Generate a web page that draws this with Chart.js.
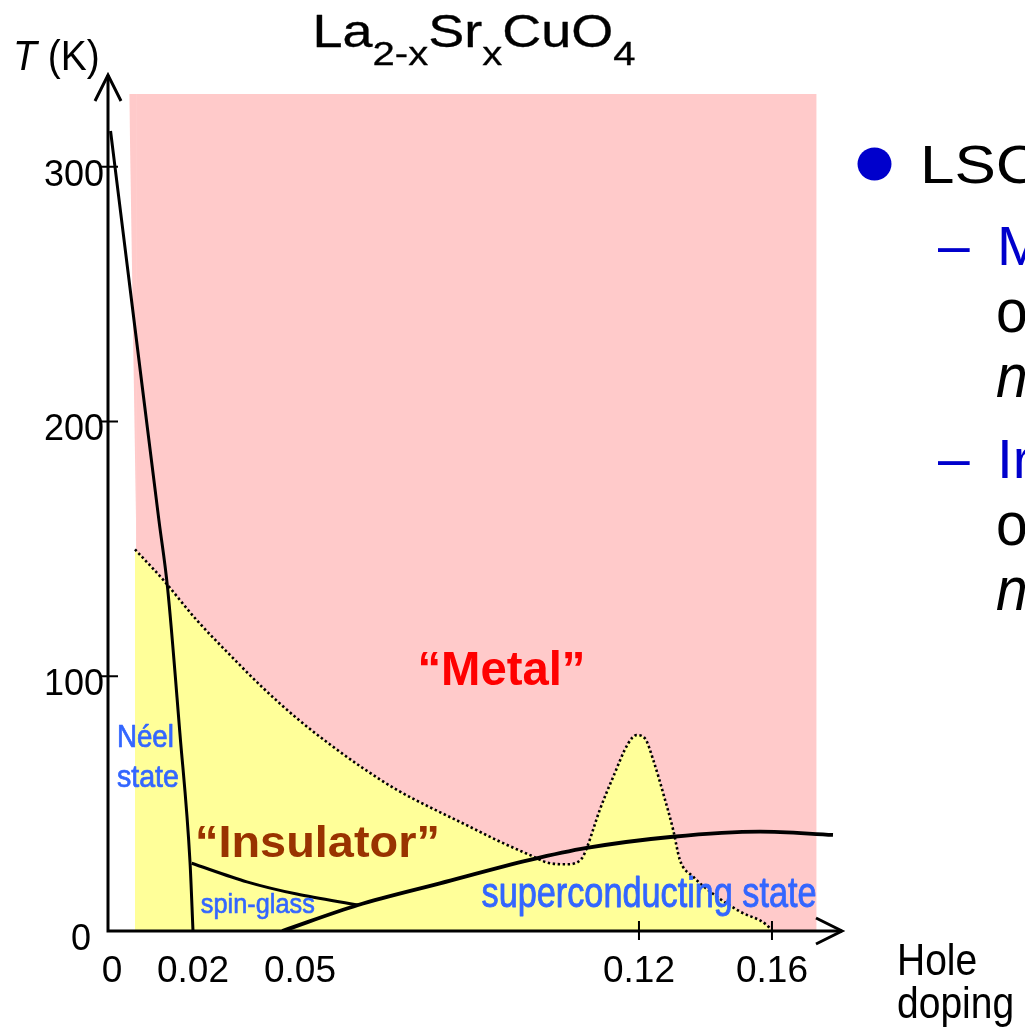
<!DOCTYPE html>
<html>
<head>
<meta charset="utf-8">
<title>La2-xSrxCuO4 phase diagram</title>
<script src="https://cdn.jsdelivr.net/npm/chart.js@4.4.1/dist/chart.umd.min.js"></script>
<style>
  html, body { margin: 0; padding: 0; background: #fff; overflow: hidden; }
  canvas { display: block; }
</style>
</head>
<body>
<canvas id="phaseChart" width="1025" height="1034"></canvas>
<script>
// hole doping x, temperature T (K)
const metalDoping = [0.0066, 0.1734];
const metalT      = [328.5, 328.5];
// the metal region's left side leans a little: thin wedge between these two edges
const wedgeTopDoping  = [0.0050, 0.0067];
const wedgeTopT       = [328.5, 328.5];
const wedgeSideDoping = [0.0050, 0.0067];
const wedgeSideT      = [328.5, 150];

const crossoverDoping = [0.00635, 0.0130, 0.0210, 0.0304, 0.0397, 0.0491, 0.0562, 0.0631, 0.0700, 0.0768,
                         0.0837, 0.0906, 0.0975, 0.1016, 0.1051, 0.1082, 0.1092, 0.1119, 0.1147, 0.1178,
                         0.1195, 0.1218, 0.1243, 0.1273, 0.1303, 0.1323, 0.1363, 0.1434, 0.1504, 0.1584, 0.1600];
const crossoverT      = [149.8, 137.8, 122.1, 108.3, 95.3, 83.5, 73.2, 63.8, 55.4, 48.6,
                         42.2, 35.7, 29.8, 26.6, 26.2, 28.5, 32.5, 47.5, 60.6, 73.7,
                         76.9, 75.6, 67.1, 54.0, 39.6, 27.9, 21.3, 13.5, 7.6, 2.4, 0];

const neelDoping = [0.0006, 0.0064, 0.0120, 0.0140, 0.0169, 0.0193, 0.0200];
const neelT      = [314, 236, 161, 135, 78, 27, 0];

const glassDoping = [0.0197, 0.0351, 0.0491, 0.0620];
const glassT      = [26.6, 19.3, 14.5, 10.2];

const scDoping = [0.045, 0.062, 0.0789, 0.0975, 0.1092, 0.1302, 0.1564, 0.1783];
const scT      = [0, 10.2, 18.7, 27.9, 32.6, 37.0, 39.0, 37.7];

const xTickLabels = [0, 0.02, 0.05, 0.12, 0.16];
const xTickMarks  = [0.12, 0.16];
const yTickLabels = [0, 100, 200, 300];
const yTickMarks  = [100, 200, 300];

// the doping axis is schematic: each marked composition gets its own stretch
const dopingStops = [0, 0.02, 0.05, 0.12, 0.16, 0.181];
const dopingFrac  = [0, 0.1158, 0.2616, 0.7234, 0.9046, 1];

function interp(v, from, to) {
  let i = 1;
  while (i < from.length - 1 && v > from[i]) i++;
  const t = (v - from[i - 1]) / (from[i] - from[i - 1]);
  return to[i - 1] + t * (to[i] - to[i - 1]);
}

class KnotScale extends Chart.LinearScale {
  getPixelForValue(value) {
    if (value === null || isNaN(value)) return NaN;
    return this.getPixelForDecimal(interp(value, dopingStops, dopingFrac));
  }
  getValueForPixel(pixel) {
    return interp(this.getDecimalForPixel(pixel), dopingFrac, dopingStops);
  }
}
KnotScale.id = 'knots';
KnotScale.defaults = Chart.LinearScale.defaults;
Chart.register(KnotScale);

const pts = (xs, ys) => xs.map((v, i) => ({ x: v, y: ys[i] }));

const SANS = '"Liberation Sans", Arial, sans-serif';
const NARROW = '"Liberation Sans Narrow", "Arial Narrow", "Liberation Sans", Arial, sans-serif';
const BLUE_LABEL = '#3366ff';
const BLUE_TEXT = '#0000cc';

// fillText with an optional vertical stretch, a fitted width and a thin outline
function text(ctx, str, x, y, font, color, opt = {}) {
  const { align = 'left', sy = 1, w = 0, stroke = 0 } = opt;
  ctx.save();
  ctx.font = font;
  ctx.fillStyle = color;
  ctx.strokeStyle = color;
  ctx.textAlign = align;
  ctx.textBaseline = 'alphabetic';
  const sx = w ? w / ctx.measureText(str).width : 1;
  ctx.translate(x, y);
  ctx.scale(sx, sy);
  ctx.fillText(str, 0, 0);
  if (stroke) {
    ctx.lineWidth = stroke;
    ctx.lineJoin = 'round';
    ctx.strokeText(str, 0, 0);
  }
  ctx.restore();
}

// region names, anchored in (doping, T)
const regionLabels = [
  { str: '\u201cMetal\u201d', x: 0.0916, t: 96.5, font: `bold 48px ${SANS}`, color: '#ff0000', opt: { align: 'center', w: 168 } },
  { str: '\u201cInsulator\u201d', x: 0.0536, t: 29, font: `bold 46px ${SANS}`, color: '#993300', opt: { align: 'center', sy: 0.97, w: 245 } },
  { str: 'N\u00e9el', x: 0.0021, t: 72.3, font: `30px ${NARROW}`, color: BLUE_LABEL, opt: { w: 57, sy: 1.06, stroke: 0.7 } },
  { str: 'state', x: 0.0021, t: 56.6, font: `30px ${NARROW}`, color: BLUE_LABEL, opt: { w: 62, sy: 1.06, stroke: 0.7 } },
  { str: 'spin-glass', x: 0.0222, t: 7.2, font: `26px ${SANS}`, color: BLUE_LABEL, opt: { w: 114, sy: 1.04, stroke: 0.6 } },
  { str: 'superconducting state', x: 0.0875, t: 9.5, font: `38px ${NARROW}`, color: BLUE_LABEL, opt: { w: 335, sy: 1.1, stroke: 0.8 } }
];

const overlay = {
  id: 'overlay',
  afterDraw(chart) {
    const { ctx, scales: { x, y } } = chart;
    const ax = x.left, ay = y.bottom, xEnd = x.right, yEnd = y.top;

    ctx.save();
    ctx.strokeStyle = '#000';
    ctx.lineWidth = 3;
    ctx.beginPath();
    ctx.moveTo(ax, ay); ctx.lineTo(xEnd, ay);
    ctx.moveTo(ax, ay + 1.5); ctx.lineTo(ax, yEnd);
    ctx.stroke();

    // arrow heads
    ctx.beginPath();
    ctx.moveTo(ax - 13, yEnd + 26); ctx.lineTo(ax, yEnd); ctx.lineTo(ax + 13, yEnd + 26);
    ctx.moveTo(xEnd - 26, ay - 13); ctx.lineTo(xEnd, ay); ctx.lineTo(xEnd - 26, ay + 13);
    ctx.stroke();

    // tick marks straddle the axes
    ctx.lineWidth = 2;
    ctx.beginPath();
    yTickMarks.forEach(v => {
      const py = y.getPixelForValue(v);
      ctx.moveTo(ax - 7, py); ctx.lineTo(ax + 10, py);
    });
    xTickMarks.forEach(v => {
      const px = x.getPixelForValue(v);
      ctx.moveTo(px, ay - 10); ctx.lineTo(px, ay + 9);
    });
    ctx.stroke();
    ctx.restore();

    // tick labels
    xTickLabels.forEach(v => {
      text(ctx, String(v), x.getPixelForValue(v) + (v === 0 ? 4 : 0), ay + 51, `37px ${SANS}`, '#000', { align: 'center', sy: 0.98 });
    });
    yTickLabels.forEach(v => {
      text(ctx, String(v), ax - (v === 0 ? 17 : 4), y.getPixelForValue(v) + 19, `36px ${SANS}`, '#000', { align: 'right', sy: 1.03 });
    });

    regionLabels.forEach(l => {
      text(ctx, l.str, x.getPixelForValue(l.x), y.getPixelForValue(l.t), l.font, l.color, l.opt);
    });

    // axis titles
    ctx.save();
    ctx.font = `italic 39px ${SANS}`;
    const tw = ctx.measureText('T').width;
    ctx.restore();
    text(ctx, 'T', 13, 70, `italic 39px ${SANS}`, '#000', { sy: 1.07 });
    text(ctx, ' (K)', 13 + tw, 70, `39px ${SANS}`, '#000', { sy: 1.07 });
    text(ctx, 'Hole', 897, 975, `39px ${SANS}`, '#000', { sy: 1.12 });
    text(ctx, 'doping', 897, 1018, `39px ${SANS}`, '#000', { sy: 1.12 });

    // chemical formula with subscripts
    const parts = [
      ['La', false], ['2-x', true], ['Sr', false], ['x', true], ['CuO', false], ['4', true]
    ];
    const mainFont = `54px ${SANS}`, subFont = `40px ${SANS}`;
    ctx.save();
    let total = 0;
    const widths = parts.map(([s, sub]) => {
      ctx.font = sub ? subFont : mainFont;
      const w = ctx.measureText(s).width;
      total += w;
      return w;
    });
    ctx.restore();
    let cx = 474 - total / 2;
    parts.forEach(([s, sub], i) => {
      text(ctx, s, cx, sub ? 65 : 47, sub ? subFont : mainFont, '#000', { sy: 0.84, stroke: 0.4 });
      cx += widths[i];
    });

    // bullet text at the right edge
    ctx.save();
    ctx.fillStyle = BLUE_TEXT;
    ctx.beginPath();
    ctx.ellipse(874.5, 164, 17, 16.5, 0, 0, Math.PI * 2);
    ctx.fill();
    ctx.restore();
    text(ctx, 'LSC', 920, 183, `62px ${SANS}`, '#000', { sy: 0.86 });
    text(ctx, '\u2013', 938, 265, `57px ${SANS}`, BLUE_TEXT);
    text(ctx, 'M', 997, 265, `57px ${SANS}`, BLUE_TEXT, { sy: 0.98 });
    text(ctx, 'o', 996, 332, `57px ${SANS}`, '#000', { sy: 1.06 });
    text(ctx, 'n', 996, 397, `italic 57px ${SANS}`, '#000', { sy: 1.06 });
    text(ctx, '\u2013', 938, 478, `57px ${SANS}`, BLUE_TEXT);
    text(ctx, 'Ir', 997, 478, `57px ${SANS}`, BLUE_TEXT, { sy: 0.98 });
    text(ctx, 'o', 996, 545, `57px ${SANS}`, '#000', { sy: 1.06 });
    text(ctx, 'n', 996, 610, `italic 57px ${SANS}`, '#000', { sy: 1.06 });
  }
};

const lineStyle = {
  pointRadius: 0,
  borderColor: '#000',
  borderWidth: 3,
  cubicInterpolationMode: 'monotone',
  fill: false
};
const areaStyle = {
  pointRadius: 0,
  borderWidth: 0,
  borderColor: 'rgba(0,0,0,0)',
  tension: 0
};

new Chart(document.getElementById('phaseChart').getContext('2d'), {
  type: 'line',
  data: {
    datasets: [
      { ...lineStyle, label: 'Néel', data: pts(neelDoping, neelT), order: 1 },
      { ...lineStyle, label: 'spin-glass', data: pts(glassDoping, glassT), order: 1, cubicInterpolationMode: 'default', tension: 0.3 },
      { ...lineStyle, label: 'Tc', data: pts(scDoping, scT), order: 1, borderWidth: 3.8 },
      {
        label: 'insulator',
        data: pts(crossoverDoping, crossoverT),
        order: 5,
        pointRadius: 0,
        borderColor: '#000',
        borderWidth: 2.6,
        borderDash: [2.4, 2.6],
        cubicInterpolationMode: 'monotone',
        backgroundColor: '#ffff99',
        fill: 'origin'
      },
      { ...areaStyle, label: 'metal', data: pts(metalDoping, metalT), order: 10, backgroundColor: '#ffcaca', fill: 'origin' },
      { ...areaStyle, label: 'metal wedge', data: pts(wedgeTopDoping, wedgeTopT), order: 10, backgroundColor: '#ffcaca', fill: '+1' },
      { ...areaStyle, label: 'wedge side', data: pts(wedgeSideDoping, wedgeSideT), order: 11, fill: false }
    ]
  },
  options: {
    responsive: false,
    animation: false,
    devicePixelRatio: 1,
    layout: { padding: { left: 108, right: 183, top: 75, bottom: 103 } },
    plugins: {
      legend: { display: false },
      tooltip: { enabled: false }
    },
    scales: {
      x: { type: 'knots', min: 0, max: 0.181, display: false },
      y: { type: 'linear', min: 0, max: 336, display: false }
    }
  },
  plugins: [overlay]
});
</script>
</body>
</html>
